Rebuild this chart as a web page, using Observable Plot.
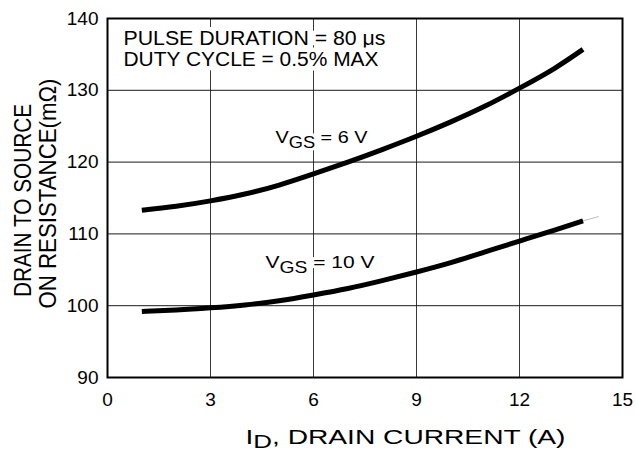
<!DOCTYPE html>
<html><head><meta charset="utf-8">
<script src="https://cdn.jsdelivr.net/npm/d3@7"></script>
<script src="https://cdn.jsdelivr.net/npm/@observablehq/plot@0.6"></script>
<style>body{margin:0;background:#fff}</style>
</head><body><div id="chart"></div>
<script>
// ---- data ----
const currentA = [1, 2, 3, 4, 5, 6, 7, 8, 9, 10, 11, 12, 13, 13.85];
const rds6V    = [113.3, 113.85, 114.6, 115.55, 116.8, 118.35, 120.0, 121.75, 123.6, 125.6, 127.8, 130.3, 133.0, 135.7];
const rds10V   = [99.2, 99.4, 99.7, 100.1, 100.7, 101.5, 102.4, 103.5, 104.7, 106.0, 107.5, 109.0, 110.5, 111.8];
const tailX    = [13.83, 14.3];
const tailY    = [111.8, 112.4];
const xTicks   = [0, 3, 6, 9, 12, 15];
const yTicks   = [90, 100, 110, 120, 130, 140];
const label6   = ["V", "GS", " = 6 V"];
const label10  = ["V", "GS", " = 10 V"];
const noteLines = ["PULSE DURATION = 80 μs", "DUTY CYCLE = 0.5% MAX"];
const xTitle   = ["I", "D", ", DRAIN CURRENT (A)"];
const yTitle   = ["DRAIN TO SOURCE", "ON RESISTANCE(mΩ)"];

const rows6  = currentA.map((x, i) => ({x, y: rds6V[i]}));
const rows10 = currentA.map((x, i) => ({x, y: rds10V[i]}));
const tail   = tailX.map((x, i) => ({x, y: tailY[i]}));

const FONT = "'Liberation Sans', Arial, Helvetica, sans-serif";
const one = [0];

const svg = Plot.plot({
  width: 636,
  height: 451,
  marginLeft: 107,
  marginRight: 14,
  marginTop: 18,
  marginBottom: 74,
  style: {fontFamily: FONT, fontSize: "19px", background: "white", color: "black", overflow: "visible"},
  x: {domain: [0, 15]},
  y: {domain: [90, 140]},
  marks: [
    Plot.gridX(xTicks, {stroke: "#3a3a3a", strokeOpacity: 1, strokeWidth: 1}),
    Plot.gridY(yTicks, {stroke: "#1a1a1a", strokeOpacity: 1, strokeWidth: 1}),
    Plot.line(tail, {x: "x", y: "y", stroke: "#aaa", strokeWidth: 0.8}),
    Plot.line(rows6, {x: "x", y: "y", stroke: "black", strokeWidth: 5, curve: "natural", strokeLinecap: "butt"}),
    Plot.line(rows10, {x: "x", y: "y", stroke: "black", strokeWidth: 5, curve: "natural", strokeLinecap: "butt"}),
    Plot.frame({stroke: "black", strokeWidth: 2}),
    Plot.axisX({ticks: xTicks, tickSize: 0, tickPadding: 15, label: null, fontSize: 19}),
    Plot.axisY({ticks: yTicks, tickSize: 0, tickPadding: 9, label: null, fontSize: 19}),
    // annotation box
    Plot.text(one, {text: () => noteLines[0], frameAnchor: "top-left", textAnchor: "start", lineAnchor: "bottom",
      dx: 16, dy: 26, fontSize: 19.5, fill: "black", stroke: "white", strokeWidth: 9}),
    Plot.text(one, {text: () => noteLines[1], frameAnchor: "top-left", textAnchor: "start", lineAnchor: "bottom",
      dx: 16, dy: 47, fontSize: 19.5, fill: "black", stroke: "white", strokeWidth: 9}),
    // curve labels
    Plot.text(one, {text: () => label6.join(""), frameAnchor: "top-left", textAnchor: "start", lineAnchor: "bottom",
      dx: 168, dy: 124, fontSize: 17, fill: "black", stroke: "white", strokeWidth: 6}),
    Plot.text(one, {text: () => label10.join(""), frameAnchor: "top-left", textAnchor: "start", lineAnchor: "bottom",
      dx: 158, dy: 249, fontSize: 17, fill: "black", stroke: "white", strokeWidth: 6}),
    // axis titles
    Plot.text(one, {text: () => xTitle.join(""), frameAnchor: "bottom-left", textAnchor: "start", lineAnchor: "bottom",
      dx: 138, dy: 66, fontSize: 20.5, fill: "black"}),
    Plot.text(one, {text: () => yTitle[0], frameAnchor: "left", rotate: -90, textAnchor: "middle", lineAnchor: "bottom",
      dx: -77, dy: 2.5, fontSize: 24, fill: "black"}),
    Plot.text(one, {text: () => yTitle[1], frameAnchor: "left", rotate: -90, textAnchor: "middle", lineAnchor: "bottom",
      dx: -52, dy: -4.5, fontSize: 24, fill: "black"})
  ]
});

function findText(str) {
  return d3.select(svg).selectAll("text").filter(function () { return this.textContent === str; });
}
function fitLength(str, len) {
  findText(str).attr("textLength", len).attr("lengthAdjust", "spacingAndGlyphs");
}
function subscript(parts, shift, len) {
  findText(parts.join("")).each(function () {
    const t = d3.select(this);
    t.text(null);
    t.append("tspan").text(parts[0]);
    t.append("tspan").attr("dy", shift).attr("font-size", "0.92em").text(parts[1]);
    t.append("tspan").attr("dy", -shift).text(parts[2]);
    if (len) t.attr("textLength", len).attr("lengthAdjust", "spacingAndGlyphs");
  });
}
fitLength(noteLines[0], 262);
fitLength(noteLines[1], 255);
fitLength(yTitle[0], 193);
fitLength(yTitle[1], 230);
subscript(label6, 5, 92);
subscript(label10, 5, 109);
subscript(xTitle, 4, 320);

document.getElementById("chart").appendChild(svg);
</script>
</body></html>
